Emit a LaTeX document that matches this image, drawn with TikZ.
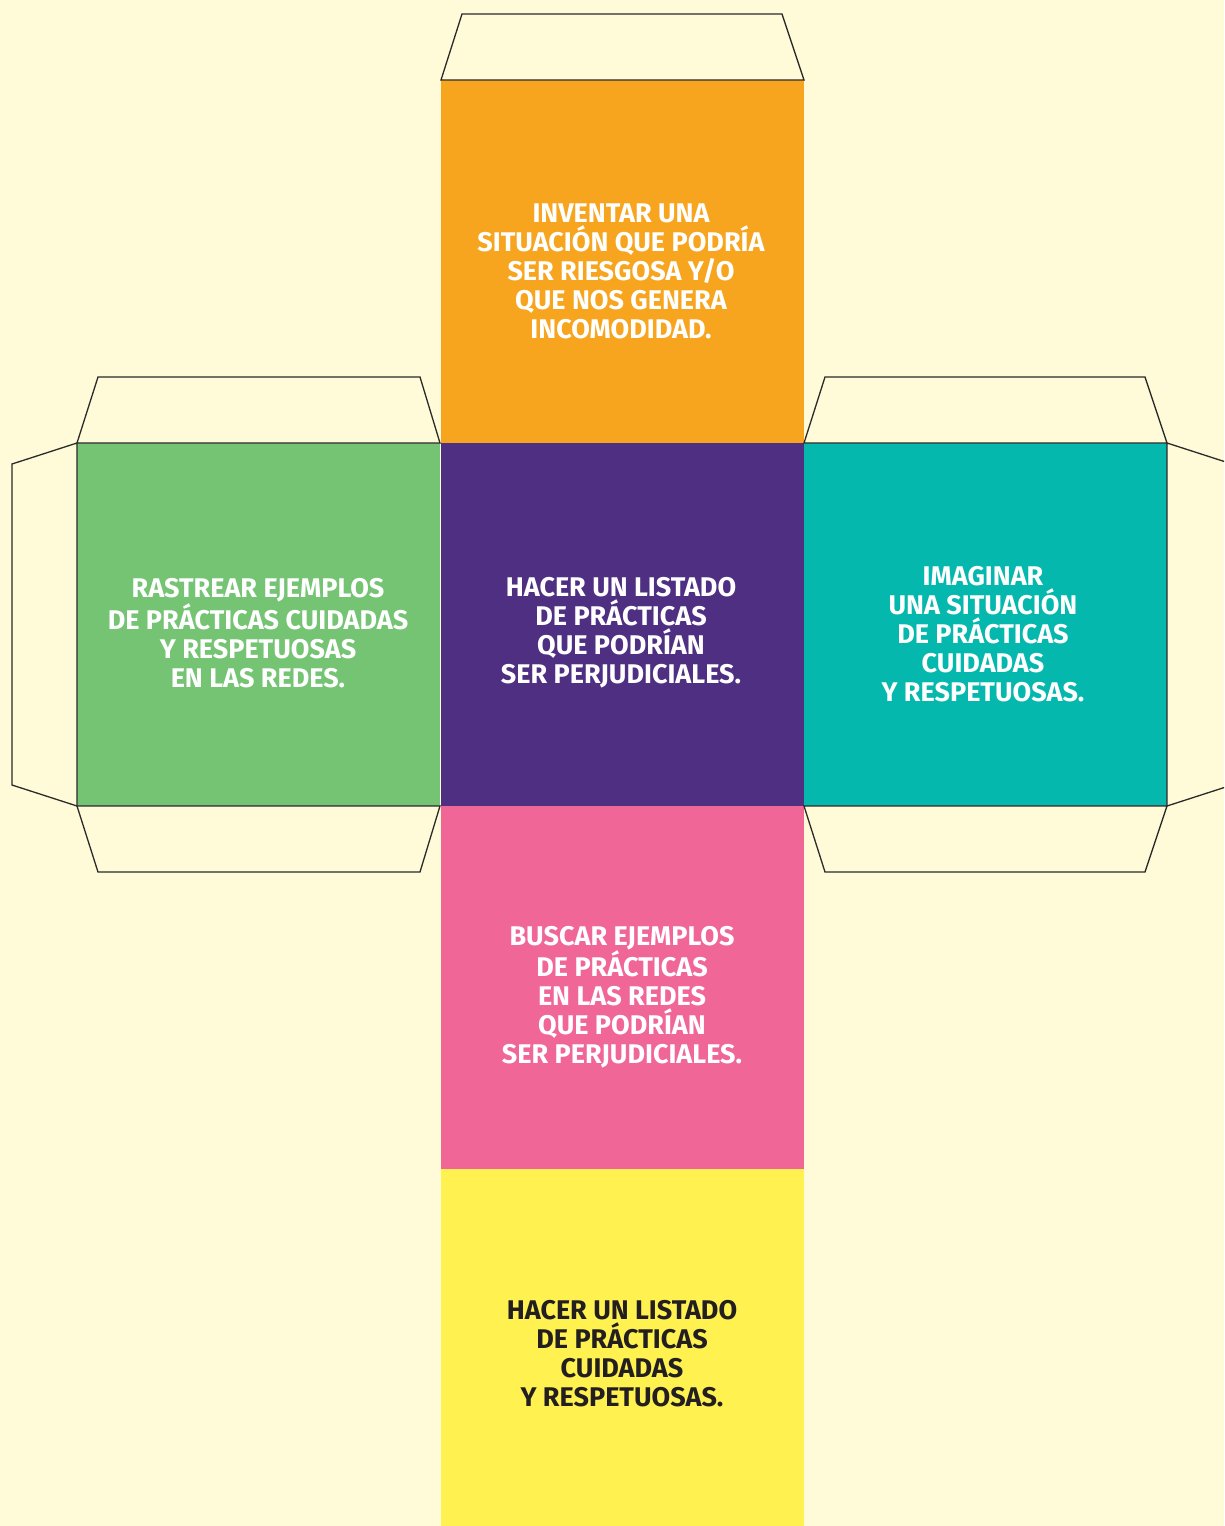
\documentclass[tikz,border=0pt]{standalone}
\usepackage{fontspec}
\setmainfont{Fira Sans}
\definecolor{bgc}{HTML}{FFFAD7}
\definecolor{orangec}{HTML}{F7A51E}
\definecolor{greenc}{HTML}{74C474}
\definecolor{purplec}{HTML}{4E2F82}
\definecolor{tealc}{HTML}{05B8AE}
\definecolor{pinkc}{HTML}{EF6697}
\definecolor{yellowc}{HTML}{FFF150}
\definecolor{darkc}{HTML}{231F20}
\definecolor{linec}{HTML}{2A2A2A}
\begin{document}
\begin{tikzpicture}[x=1pt,y=-1pt,
  face/.style={draw=none,minimum width=363pt,minimum height=363pt,inner sep=0pt,outer sep=0pt},
  tab/.style={draw=linec,line width=1.3pt,line join=miter,fill=bgc},
  lbl/.style={align=center,font=\fontsize{27}{29}\selectfont\bfseries,text=white,inner sep=0pt}]
\useasboundingbox (0,0) rectangle (1224,1526);
\fill[bgc] (0,0) rectangle (1224,1526);
\begin{scope}
\clip (0,0) rectangle (1224,1526);
% faces
\node[face,fill=orangec,anchor=north west] (top) at (441,80) {};
\node[face,fill=greenc,anchor=north west] (left) at (77,443) {};
\node[face,fill=purplec,anchor=north west] (mid) at (441,443) {};
\node[face,fill=tealc,anchor=north west] (right) at (804,443) {};
\node[face,fill=pinkc,anchor=north west] (bot) at (441,806) {};
\node[face,fill=yellowc,anchor=north west] (base) at (441,1169) {};
% tabs
\draw[tab] (top.north west) -- ++(21,-66) -- ++(320,0) -- (top.north east) -- cycle;
\draw[tab] (left.north west) -- ++(21,-66) -- ++(322,0) -- (left.north east) -- cycle;
\draw[tab] (left.south west) -- ++(21,66) -- ++(322,0) -- (left.south east) -- cycle;
\draw[tab] (left.north west) -- ++(-65,21) -- ++(0,321) -- (left.south west) -- cycle;
\draw[tab] (right.north west) -- ++(21,-66) -- ++(320,0) -- (right.north east) -- cycle;
\draw[tab] (right.south west) -- ++(21,66) -- ++(320,0) -- (right.south east) -- cycle;
\draw[tab] (right.north east) -- ++(65,21) -- ++(0,321) -- (right.south east) -- cycle;
\end{scope}
% labels
\node[lbl] (ttop) at (621,271) {INVENTAR UNA\\SITUACIÓN QUE PODRÍA\\SER RIESGOSA Y/O\\QUE NOS GENERA\\INCOMODIDAD.};
\node[lbl] (tleft) at (258,633) {RASTREAR EJEMPLOS\\DE PRÁCTICAS CUIDADAS\\Y RESPETUOSAS\\EN LAS REDES.};
\node[lbl] (tmid) at (621,633) {HACER UN LISTADO\\DE PRÁCTICAS\\QUE PODRÍAN\\SER PERJUDICIALES.};
\node[lbl] (tright) at (983,634) {IMAGINAR\\UNA SITUACIÓN\\DE PRÁCTICAS\\CUIDADAS\\Y RESPETUOSAS.};
\node[lbl] (tbot) at (622,997) {BUSCAR EJEMPLOS\\DE PRÁCTICAS\\EN LAS REDES\\QUE PODRÍAN\\SER PERJUDICIALES.};
\node[lbl,text=darkc] (tbase) at (622,1354) {HACER UN LISTADO\\DE PRÁCTICAS\\CUIDADAS\\Y RESPETUOSAS.};
\end{tikzpicture}
\end{document}
